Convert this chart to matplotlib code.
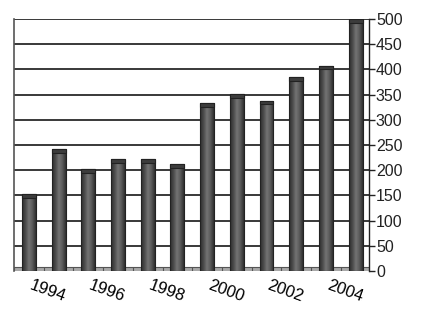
import numpy as np
import matplotlib
matplotlib.use('Agg')
import matplotlib.pyplot as plt
from matplotlib.colors import LinearSegmentedColormap
import matplotlib.transforms as mtransforms

# yearly values
years = [1993, 1994, 1995, 1996, 1997, 1998, 1999, 2000, 2001, 2002, 2003, 2004]
values = [152, 242, 202, 222, 222, 212, 333, 351, 338, 384, 407, 500]
label_years = [1994, 1996, 1998, 2000, 2002, 2004]
yticks = [0, 50, 100, 150, 200, 250, 300, 350, 400, 450, 500]

plt.rcParams['font.family'] = ['Liberation Sans', 'DejaVu Sans']

fig = plt.figure(figsize=(4.25, 3.16), dpi=100)
ax = fig.add_axes([14/425, 45/316, 355/425, 252/316])

# gradient for the cylinder look
cmap = LinearSegmentedColormap.from_list('cyl', ['#2e2e2e', '#4a4a4a', '#747474', '#5a5a5a', '#303030'])
grad = np.linspace(0, 1, 64).reshape(1, -1)

#grid lines
for y in yticks:
    ax.axhline(y, color='#2a2a2a', lw=1.3, zorder=1)

# floor strip at the bottom
ax.axhspan(0, 8, color='#a8a8a8', zorder=2, lw=0)
ax.axhline(8, color='#555555', lw=0.8, zorder=2)
for i in range(len(years) + 1):
    ax.plot([years[0] - 0.5 + i, years[0] - 0.5 + i], [0, 5], color='#555555', lw=0.8, zorder=2)

bars = ax.bar(years, values, width=0.47, color='none', edgecolor='#222222', lw=0.8, zorder=4)
for b in bars:
    x0, w, h = b.get_x(), b.get_width(), b.get_height()
    im = ax.imshow(grad, cmap=cmap, aspect='auto', extent=(x0, x0 + w, 0, h), zorder=3)
    im.set_clip_path(b)
    # top cap
    ax.add_patch(plt.Rectangle((x0, h - 7), w, 7, facecolor='#3c3c3c', edgecolor='#222222', lw=0.8, zorder=5))

ax.set_xlim(years[0] - 0.5, years[-1] + 0.45)
ax.set_ylim(0, 500)

ax.yaxis.tick_right()
ax.set_yticks(yticks)
ax.tick_params(axis='y', length=4, width=1, colors='#222222', labelsize=11.5, pad=1)

ax.set_xticks(label_years)
ax.set_xticklabels([str(y) for y in label_years], rotation=-20, ha='center', fontsize=12)
ax.tick_params(axis='x', length=0, pad=5)
offset = mtransforms.ScaledTranslation(-11/100, 0, fig.dpi_scale_trans)
for lab in ax.get_xticklabels():
    lab.set_transform(lab.get_transform() + offset)

for s in ['top', 'bottom']:
    ax.spines[s].set_visible(False)
ax.spines['left'].set_color('#555555')
ax.spines['left'].set_linewidth(1.2)
ax.spines['right'].set_color('#222222')
ax.spines['right'].set_linewidth(1)

plt.savefig('out.png', dpi=100)
